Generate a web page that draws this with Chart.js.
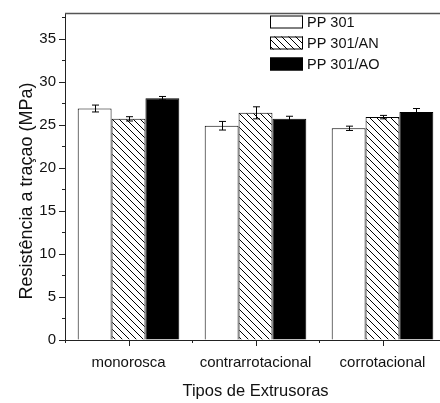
<!DOCTYPE html>
<html>
<head>
<meta charset="utf-8">
<script src="https://cdn.jsdelivr.net/npm/chart.js@4/dist/chart.umd.min.js"></script>
<style>
  html, body { margin: 0; padding: 0; background: #fff; overflow: hidden; }
  #wrap { width: 450px; height: 403px; }
</style>
</head>
<body>
<div id="wrap"><canvas id="grafico" width="450" height="403"></canvas></div>
<script>
// --- DADOS ---
const extrusoras = ['monorosca', 'contrarrotacional', 'corrotacional'];
const series = ['PP 301', 'PP 301/AN', 'PP 301/AO'];
const pp301 = [26.9, 24.9, 24.6];
const pp301AN = [25.7, 26.4, 25.9];
const pp301AO = [28.1, 25.7, 26.5];
const errPP301 = [0.4, 0.5, 0.25];
const errPP301AN = [0.25, 0.7, 0.2];
const errPP301AO = [0.2, 0.3, 0.4];
const yTicks = [0, 5, 10, 15, 20, 25, 30, 35];
const yMax = 38;
const tituloY = 'Resistência a traçao (MPa)';

const FONTE = '"Liberation Sans", Arial, sans-serif';
const COR_EIXO = '#222';

// padrao hachurado (\\\)
function hachura() {
    const s = 7;
    const c = document.createElement('canvas');
    c.width = s; c.height = s;
    const g = c.getContext('2d');
    g.fillStyle = '#fff';
    g.fillRect(0, 0, s, s);
    g.strokeStyle = '#000';
    g.lineWidth = 1;
    g.beginPath();
    g.moveTo(-1, -1); g.lineTo(s + 1, s + 1);
    g.moveTo(-1, s - 1); g.lineTo(1, s + 1);
    g.moveTo(s - 1, -1); g.lineTo(s + 1, 1);
    g.stroke();
    return g.createPattern(c, 'repeat');
}

const ctx = document.getElementById('grafico').getContext('2d');
const padrao = hachura();

// --- BARRAS DE ERRO ---
const barrasErro = {
    id: 'barrasErro',
    afterDatasetsDraw(chart) {
        const g = chart.ctx;
        const y = chart.scales.y;
        g.save();
        g.strokeStyle = '#000';
        g.lineWidth = 1;
        chart.data.datasets.forEach((ds, i) => {
            const meta = chart.getDatasetMeta(i);
            meta.data.forEach((bar, j) => {
                const v = ds.data[j], e = ds.erro[j];
                const x = Math.round(bar.x) + 0.5;
                const yt = y.getPixelForValue(v + e);
                const yb = y.getPixelForValue(v - e);
                g.beginPath();
                g.moveTo(x, yt); g.lineTo(x, yb);
                g.moveTo(x - 3.5, yt); g.lineTo(x + 3.5, yt);
                g.moveTo(x - 3.5, yb); g.lineTo(x + 3.5, yb);
                g.stroke();
            });
        });
        g.restore();
    }
};

// --- MOLDURA, TICKS, TITULO Y E LEGENDA ---
const moldura = {
    id: 'moldura',
    afterDraw(chart) {
        const g = chart.ctx;
        const a = chart.chartArea;
        const y = chart.scales.y;
        const x = chart.scales.x;
        g.save();
        g.lineWidth = 1.3;
        g.strokeStyle = '#555';
        g.beginPath();
        g.moveTo(a.left, a.top + 0.5); g.lineTo(a.right, a.top + 0.5);
        g.lineTo(a.right, a.bottom);
        g.stroke();

        g.strokeStyle = COR_EIXO;
        g.lineWidth = 1;
        g.beginPath();
        for (let v = 0; v < yMax; v += 2.5) {
            const py = Math.round(y.getPixelForValue(v)) + 0.5;
            const len = v % 5 === 0 ? 6 : 3;
            g.moveTo(a.left - len, py); g.lineTo(a.left, py);
        }
        extrusoras.forEach((_, i) => {
            const px = Math.round(x.getPixelForValue(i)) + 0.5;
            g.moveTo(px, a.bottom); g.lineTo(px, a.bottom + 6);
            const pb = Math.round(x.getPixelForValue(i - 0.5)) + 0.5;
            g.moveTo(pb, a.bottom); g.lineTo(pb, a.bottom + 3);
        });
        g.stroke();

        // titulo do eixo y
        g.save();
        g.translate(27, 191);
        g.rotate(-Math.PI / 2);
        g.font = '18px ' + FONTE;
        g.fillStyle = '#111';
        g.textAlign = 'center';
        g.textBaseline = 'middle';
        g.fillText(tituloY, 0, 0);
        g.restore();

        // legenda
        g.font = '14.5px ' + FONTE;
        g.textBaseline = 'middle';
        chart.data.datasets.forEach((ds, i) => {
            const cy = 22 + i * 21;
            g.fillStyle = ds.backgroundColor;
            g.fillRect(270, cy - 6.5, 33, 13);
            g.strokeStyle = '#000';
            g.strokeRect(270.5, cy - 6, 32, 12);
            g.fillStyle = '#111';
            g.fillText(ds.label, 307, cy + 1);
        });
        g.restore();
    }
};

const datasets = [
    { label: series[0], data: pp301, erro: errPP301, backgroundColor: '#fff' },
    { label: series[1], data: pp301AN, erro: errPP301AN, backgroundColor: padrao },
    { label: series[2], data: pp301AO, erro: errPP301AO, backgroundColor: '#000' }
].map(d => Object.assign(d, {
    borderColor: '#000',
    borderWidth: 1,
    borderSkipped: 'bottom',
    categoryPercentage: 0.8,
    barPercentage: 1.0
}));

new Chart(ctx, {
    type: 'bar',
    data: { labels: extrusoras, datasets: datasets },
    options: {
        responsive: false,
        animation: false,
        layout: { padding: { top: 13, right: 4, left: 0, bottom: 0 } },
        plugins: { legend: { display: false }, tooltip: { enabled: false } },
        scales: {
            x: {
                grid: { display: true, drawOnChartArea: false, drawTicks: false },
                border: { display: true, color: COR_EIXO, width: 1 },
                ticks: { color: '#111', padding: 14, font: { family: FONTE, size: 15 } },
                title: {
                    display: true, text: 'Tipos de Extrusoras', color: '#111',
                    font: { family: FONTE, size: 16.5 }, padding: { top: 0, bottom: 2 }
                },
                afterFit(s) { s.height = 63; s.paddingLeft = 0; s.paddingRight = 0; }
            },
            y: {
                min: 0, max: yMax,
                grid: { display: true, drawOnChartArea: false, drawTicks: false },
                border: { display: true, color: COR_EIXO, width: 1 },
                afterBuildTicks(s) { s.ticks = yTicks.map(v => ({ value: v })); },
                ticks: { color: '#111', padding: 9, font: { family: FONTE, size: 15 } },
                afterFit(s) { s.width = 65; s.paddingTop = 0; s.paddingBottom = 0; }
            }
        }
    },
    plugins: [barrasErro, moldura]
});
</script>
</body>
</html>
